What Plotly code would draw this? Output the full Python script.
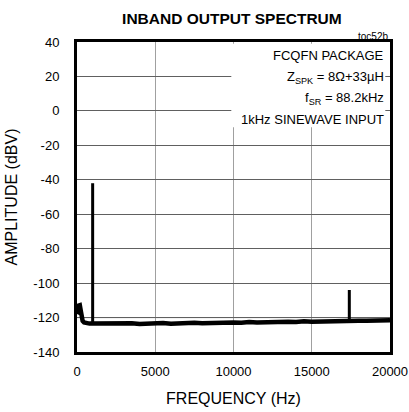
import plotly.graph_objects as go

# ---- data ----
# noise floor of the spectrum (dBV)
floor_hz = [0, 60, 120, 180, 240, 300, 360, 450, 600, 800,
            1000, 1500, 2000, 2500, 3000, 3500, 4000, 4500, 5000, 5500, 6000, 6500,
            7000, 7500, 8000, 8500, 9000, 9500, 10000, 10500, 11000, 11500,
            12000, 12500, 13000, 13500, 14000, 14500, 15000, 15500, 16000,
            16500, 17000, 17400, 17500, 18000, 18500, 19000, 19500, 20000]
floor_dbv = [-118.0, -116.5, -113.0, -112.8, -116.0, -120.5, -122.0, -122.8, -123.3, -123.5,
             -123.5, -123.4, -123.8, -123.5, -123.7, -123.3, -123.8, -123.4, -123.5, -123.1,
             -123.6, -123.2, -123.4, -123.0, -123.3, -123.1, -122.8, -123.2, -122.9, -123.0,
             -122.6, -122.9, -122.7, -122.4, -122.8, -122.5, -122.6, -122.2, -122.5, -122.3,
             -122.4, -122.0, -122.3, -122.1, -122.0, -121.9, -121.8, -121.5, -121.7, -121.5]
# spectral lines: fundamental and switching image
spike_hz = [1000, 17400]
spike_dbv = [-42.0, -104.0]

x_ticks = [0, 5000, 10000, 15000, 20000]
y_ticks = [-140, -120, -100, -80, -60, -40, -20, 0, 20, 40]
notes = ["FCQFN PACKAGE",
         "Z<sub>SPK</sub> = 8\u03a9+33\u00b5H",
         "f<sub>SR</sub> = 88.2kHz",
         "1kHz SINEWAVE INPUT"]

FONT = "Liberation Sans, Arial, sans-serif"

fig = go.Figure()
fig.add_trace(go.Scatter(x=floor_hz, y=floor_dbv, mode="lines",
                         line=dict(color="black", width=4.5), showlegend=False))
for f, peak in zip(spike_hz, spike_dbv):
    base = floor_dbv[floor_hz.index(f)]
    fig.add_trace(go.Scatter(x=[f, f], y=[base, peak], mode="lines",
                             line=dict(color="black", width=3), showlegend=False))

fig.update_layout(
    width=409, height=412,
    margin=dict(l=77, r=19, t=42, b=60, autoexpand=False),
    paper_bgcolor="white", plot_bgcolor="white",
    font=dict(family=FONT, size=13, color="black"),
    title=dict(text="<b>INBAND OUTPUT SPECTRUM</b>", x=0.567, xanchor="center",
               y=0.955, yanchor="middle", font=dict(family=FONT, size=15.5)),
    xaxis=dict(range=[0, 20000], tickvals=x_ticks, ticktext=[str(v) for v in x_ticks],
               showgrid=True, gridcolor="#a0a0a0", gridwidth=1,
               showline=True, linecolor="black", linewidth=3, mirror=True,
               ticks="", zeroline=False, ticklabelstandoff=5, automargin=False,
               title=dict(text="FREQUENCY (Hz)", standoff=16)),
    yaxis=dict(range=[-140, 40], tickvals=y_ticks, ticktext=[str(v) for v in y_ticks],
               showgrid=True, gridcolor="#606060", gridwidth=1,
               showline=True, linecolor="black", linewidth=3, mirror=True,
               ticks="", zeroline=False, ticklabelstandoff=12, automargin=False,
               title=dict(text="AMPLITUDE (dBV)", standoff=12)),
)

# reference line at -120 (black)
fig.add_shape(type="line", xref="paper", yref="y", x0=0, x1=1, y0=-120, y1=-120,
              line=dict(color="black", width=1), layer="below")
# white box behind the annotation block
fig.add_shape(type="rect", xref="paper", yref="paper", x0=0.493, x1=0.985, y0=0.725, y1=0.994,
              fillcolor="white", line=dict(width=0), layer="above")

ys = [0.955, 0.886, 0.818, 0.750]
for t, yy in zip(notes, ys):
    fig.add_annotation(text=t, xref="paper", yref="paper", x=0.988, y=yy,
                       xanchor="right", yanchor="middle", showarrow=False,
                       font=dict(family=FONT, size=13))

fig.add_annotation(text="toc52b", xref="paper", yref="paper", x=1.0, y=1.0,
                   xanchor="right", yanchor="bottom", showarrow=False, yshift=-2,
                   font=dict(family=FONT, size=10))

fig.write_html("out.html", config={"displayModeBar": False},
               post_script="document.body.style.margin='0px';")
